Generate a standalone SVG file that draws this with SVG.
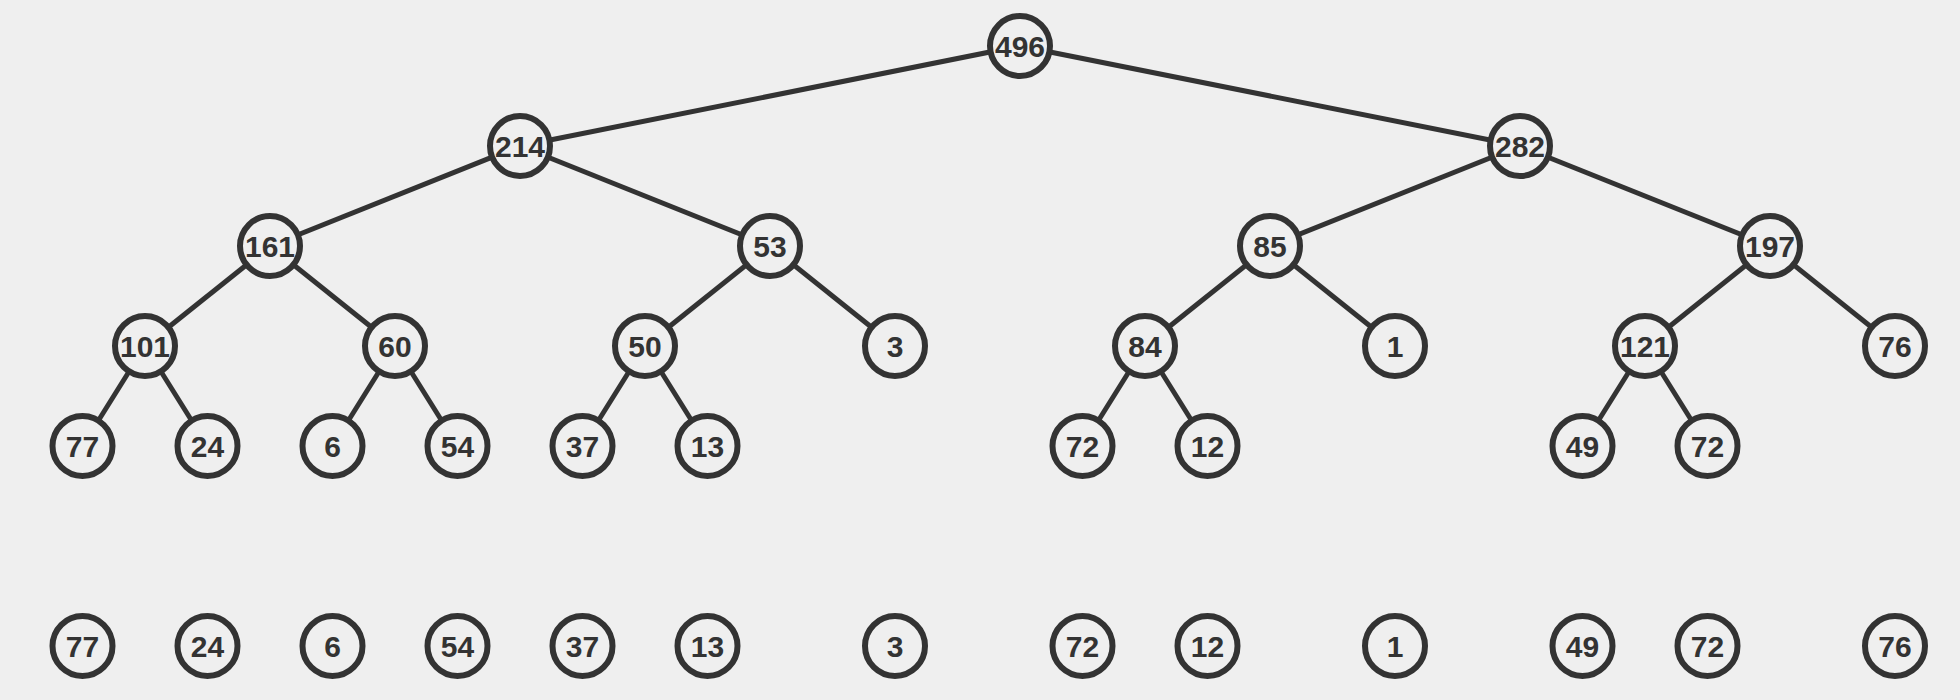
<svg xmlns="http://www.w3.org/2000/svg" width="1960" height="700" viewBox="0 0 1960 700">
<style>
.n circle{fill:#efefef;stroke:#333;stroke-width:6}
.n text{font-family:"Liberation Sans",Arial,sans-serif;font-weight:bold;font-size:30px;fill:#333;text-anchor:middle;dominant-baseline:central}
#edges line{stroke:#333;stroke-width:5}
</style>
<rect width="1960" height="700" fill="#efefef"/>
<g id="edges">
<line x1="1020" y1="46" x2="520" y2="146"/>
<line x1="1020" y1="46" x2="1520" y2="146"/>
<line x1="520" y1="146" x2="270" y2="246"/>
<line x1="520" y1="146" x2="770" y2="246"/>
<line x1="1520" y1="146" x2="1270" y2="246"/>
<line x1="1520" y1="146" x2="1770" y2="246"/>
<line x1="270" y1="246" x2="145" y2="346"/>
<line x1="270" y1="246" x2="395" y2="346"/>
<line x1="770" y1="246" x2="645" y2="346"/>
<line x1="770" y1="246" x2="895" y2="346"/>
<line x1="1270" y1="246" x2="1145" y2="346"/>
<line x1="1270" y1="246" x2="1395" y2="346"/>
<line x1="1770" y1="246" x2="1645" y2="346"/>
<line x1="1770" y1="246" x2="1895" y2="346"/>
<line x1="145" y1="346" x2="82.5" y2="446"/>
<line x1="145" y1="346" x2="207.5" y2="446"/>
<line x1="395" y1="346" x2="332.5" y2="446"/>
<line x1="395" y1="346" x2="457.5" y2="446"/>
<line x1="645" y1="346" x2="582.5" y2="446"/>
<line x1="645" y1="346" x2="707.5" y2="446"/>
<line x1="1145" y1="346" x2="1082.5" y2="446"/>
<line x1="1145" y1="346" x2="1207.5" y2="446"/>
<line x1="1645" y1="346" x2="1582.5" y2="446"/>
<line x1="1645" y1="346" x2="1707.5" y2="446"/>
</g>
<g id="n496" class="n" transform="translate(1020,46)"><circle r="30"/><text>496</text></g>
<g id="n214" class="n" transform="translate(520,146)"><circle r="30"/><text>214</text></g>
<g id="n282" class="n" transform="translate(1520,146)"><circle r="30"/><text>282</text></g>
<g id="n161" class="n" transform="translate(270,246)"><circle r="30"/><text>161</text></g>
<g id="n53" class="n" transform="translate(770,246)"><circle r="30"/><text>53</text></g>
<g id="n85" class="n" transform="translate(1270,246)"><circle r="30"/><text>85</text></g>
<g id="n197" class="n" transform="translate(1770,246)"><circle r="30"/><text>197</text></g>
<g id="n101" class="n" transform="translate(145,346)"><circle r="30"/><text>101</text></g>
<g id="n60" class="n" transform="translate(395,346)"><circle r="30"/><text>60</text></g>
<g id="n50" class="n" transform="translate(645,346)"><circle r="30"/><text>50</text></g>
<g id="n3" class="n" transform="translate(895,346)"><circle r="30"/><text>3</text></g>
<g id="n84" class="n" transform="translate(1145,346)"><circle r="30"/><text>84</text></g>
<g id="n1" class="n" transform="translate(1395,346)"><circle r="30"/><text>1</text></g>
<g id="n121" class="n" transform="translate(1645,346)"><circle r="30"/><text>121</text></g>
<g id="n76" class="n" transform="translate(1895,346)"><circle r="30"/><text>76</text></g>
<g id="n77" class="n" transform="translate(82.5,446)"><circle r="30"/><text>77</text></g>
<g id="n24" class="n" transform="translate(207.5,446)"><circle r="30"/><text>24</text></g>
<g id="n6" class="n" transform="translate(332.5,446)"><circle r="30"/><text>6</text></g>
<g id="n54" class="n" transform="translate(457.5,446)"><circle r="30"/><text>54</text></g>
<g id="n37" class="n" transform="translate(582.5,446)"><circle r="30"/><text>37</text></g>
<g id="n13" class="n" transform="translate(707.5,446)"><circle r="30"/><text>13</text></g>
<g id="n72a" class="n" transform="translate(1082.5,446)"><circle r="30"/><text>72</text></g>
<g id="n12" class="n" transform="translate(1207.5,446)"><circle r="30"/><text>12</text></g>
<g id="n49" class="n" transform="translate(1582.5,446)"><circle r="30"/><text>49</text></g>
<g id="n72b" class="n" transform="translate(1707.5,446)"><circle r="30"/><text>72</text></g>
<g id="b77" class="n" transform="translate(82.5,646)"><circle r="30"/><text>77</text></g>
<g id="b24" class="n" transform="translate(207.5,646)"><circle r="30"/><text>24</text></g>
<g id="b6" class="n" transform="translate(332.5,646)"><circle r="30"/><text>6</text></g>
<g id="b54" class="n" transform="translate(457.5,646)"><circle r="30"/><text>54</text></g>
<g id="b37" class="n" transform="translate(582.5,646)"><circle r="30"/><text>37</text></g>
<g id="b13" class="n" transform="translate(707.5,646)"><circle r="30"/><text>13</text></g>
<g id="b3" class="n" transform="translate(895,646)"><circle r="30"/><text>3</text></g>
<g id="b72a" class="n" transform="translate(1082.5,646)"><circle r="30"/><text>72</text></g>
<g id="b12" class="n" transform="translate(1207.5,646)"><circle r="30"/><text>12</text></g>
<g id="b1" class="n" transform="translate(1395,646)"><circle r="30"/><text>1</text></g>
<g id="b49" class="n" transform="translate(1582.5,646)"><circle r="30"/><text>49</text></g>
<g id="b72b" class="n" transform="translate(1707.5,646)"><circle r="30"/><text>72</text></g>
<g id="b76" class="n" transform="translate(1895,646)"><circle r="30"/><text>76</text></g>
</svg>
